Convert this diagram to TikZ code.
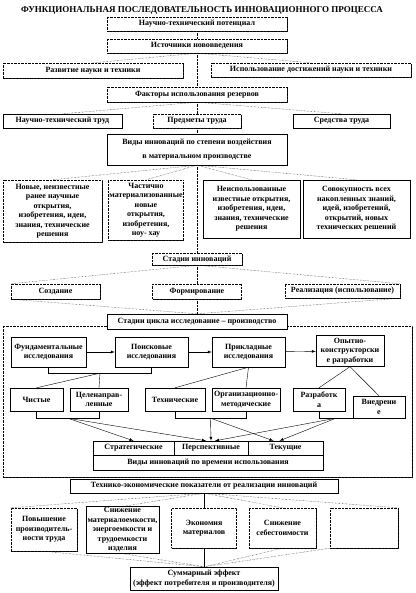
\documentclass[tikz,border=0pt]{standalone}
\usepackage{fontspec}
\setmainfont{Liberation Serif}
\usetikzlibrary{shapes.geometric, arrows, shadows}
\tikzstyle{dbox} = [rectangle, draw=black, densely dotted, fill=white, align=center, inner sep=1pt, drop shadow={shadow xshift=0.8pt, shadow yshift=-0.8pt, fill=black!85, opacity=1}]
\tikzstyle{sbox} = [rectangle, draw=black, fill=white, align=center, inner sep=1pt, drop shadow={shadow xshift=0.8pt, shadow yshift=-0.8pt, fill=black!85, opacity=1}]
\tikzstyle{innerbox} = [rectangle, draw=black, fill=white, align=center, inner sep=1pt]
\tikzstyle{bigframe} = [rectangle, draw=black, densely dotted, fill=white, drop shadow={shadow xshift=0.8pt, shadow yshift=-0.8pt, fill=black!85, opacity=1}]
\tikzstyle{link} = [densely dotted]
\tikzstyle{solidline} = [thin]
\tikzstyle{arrow} = [->,>=latex]

\begin{document}
\begin{tikzpicture}[x=1pt, y=-1pt, node distance=22pt, thin, every node/.style={font=\fontsize{8}{9.5}\selectfont\bfseries}]
	\useasboundingbox (0,0) rectangle (415,593);

	\node (title) at (202,10) [font=\fontsize{9}{10}\selectfont\bfseries] {ФУНКЦИОНАЛЬНАЯ ПОСЛЕДОВАТЕЛЬНОСТЬ ИННОВАЦИОННОГО ПРОЦЕССА};

	% источники и факторы
	\node (pot) [dbox, below of=title, node distance=14pt, xshift=-5pt, minimum width=180pt, minimum height=14pt] {Научно-технический потенциал};
	\node (src) [dbox, below of=pot, minimum width=180pt, minimum height=14pt] {Источники нововведения};
	\node (dev) [dbox, below of=src, node distance=24.5pt, xshift=-104pt, minimum width=180pt, minimum height=15pt] {Развитие науки и техники};
	\node (use) [dbox, below of=src, node distance=24pt, xshift=114pt, minimum width=200pt, minimum height=14pt] {Использование достижений науки и техники};
	\node (fact) [dbox, below of=src, node distance=48.5pt, minimum width=180pt, minimum height=15pt] {Факторы использования резервов};
	\node (labor) [sbox, below of=fact, node distance=26.5pt, xshift=-134.5pt, minimum width=119pt, minimum height=14pt] {Научно-технический труд};
	\node (objects) [dbox, below of=fact, node distance=26.5pt, minimum width=88pt, minimum height=14pt] {Предметы труда};
	\node (means) [sbox, below of=fact, node distance=26.5pt, xshift=144.5pt, minimum width=97pt, minimum height=14pt] {Средства труда};
	\node (kinds) [sbox, below of=objects, node distance=28.5pt, minimum width=180pt, minimum height=31pt] {Виды инноваций по степени воздействия\\[4pt]в материальном производстве};

	% виды по степени воздействия
	\node (new) [dbox, below of=kinds, node distance=61.5pt, xshift=-144.5pt, minimum width=99pt, minimum height=62pt] {Новые, неизвестные\\ранее научные\\открытия,\\изобретения, идеи,\\знания, технические\\решения};
	\node (part) [dbox, below of=kinds, node distance=60.5pt, xshift=-51pt, minimum width=74pt, minimum height=60pt] {Частично\\материализованные\\новые\\открытия,\\изобретения,\\ноу- хау};
	\node (unused) [sbox, below of=kinds, node distance=59.5pt, xshift=54.5pt, minimum width=97pt, minimum height=58pt] {Неиспользованные\\известные открытия,\\изобретения, идеи,\\знания, технические\\решения};
	\node (total) [sbox, below of=kinds, node distance=59.5pt, xshift=159.5pt, minimum width=107pt, minimum height=58pt] {Совокупность всех\\накопленных знаний,\\идей, изобретений,\\открытий, новых\\технических решений};

	% стадии
	\node (stages) [dbox, below of=kinds, node distance=109.5pt, minimum width=90pt, minimum height=12pt] {Стадии инноваций};
	\node (create) [dbox, below of=stages, node distance=32.5pt, xshift=-141.5pt, minimum width=89pt, minimum height=15pt] {Создание};
	\node (form) [dbox, below of=stages, node distance=32.5pt, minimum width=89pt, minimum height=15pt] {Формирование};
	\node (real) [dbox, below of=stages, node distance=32pt, xshift=145.5pt, minimum width=115pt, minimum height=14pt] {Реализация (использование)};
	\node (frame) [bigframe, below of=form, node distance=110pt, xshift=10.5pt, minimum width=409pt, minimum height=151pt] {};
	\node (cycle) [sbox, below of=form, node distance=30pt, minimum width=180pt, minimum height=15pt] {Стадии цикла исследование – производство};

	% цикл исследование - производство
	\node (fund) [innerbox, below of=cycle, node distance=30.5pt, xshift=-148.5pt, minimum width=75pt, minimum height=30pt] {Фундаментальные\\исследования};
	\node (search) [innerbox, right of=fund, node distance=103pt, minimum width=73pt, minimum height=30pt] {Поисковые\\исследования};
	\node (applied) [innerbox, right of=search, node distance=97pt, minimum width=73pt, minimum height=30pt] {Прикладные\\исследования};
	\node (design) [innerbox, right of=applied, node distance=101.5pt, yshift=1pt, minimum width=68pt, minimum height=31pt] {Опытно-\\конструкторски\\е разработки};

	\node (pure) [innerbox, below of=fund, node distance=47.5pt, xshift=-12pt, minimum width=53pt, minimum height=23pt] {Чистые};
	\node (aimed) [innerbox, right of=pure, node distance=62.5pt, minimum width=58pt, minimum height=23pt] {Целенаправ-\\ленные};
	\node (tech) [innerbox, right of=aimed, node distance=76pt, minimum width=60pt, minimum height=23pt] {Технические};
	\node (org) [innerbox, right of=tech, node distance=71pt, minimum width=68pt, minimum height=23pt] {Организационно-\\методические};
	\node (work) [innerbox, right of=org, node distance=73pt, minimum width=52pt, minimum height=23pt] {Разработк\\а};
	\node (impl) [innerbox, right of=work, node distance=60pt, yshift=-7.5pt, minimum width=52pt, minimum height=22pt] {Внедрени\\е};

	\node (persp) [innerbox, below of=tech, node distance=48.5pt, xshift=36pt, minimum width=74pt, minimum height=14pt] {Перспективные};
	\node (strat) [innerbox, left of=persp, node distance=77.5pt, minimum width=81pt, minimum height=14pt] {Стратегические};
	\node (curr) [innerbox, right of=persp, node distance=74.5pt, minimum width=75pt, minimum height=14pt] {Текущие};
	\node (time) [innerbox, below of=persp, node distance=14.5pt, xshift=-3pt, minimum width=230pt, minimum height=15pt] {Виды инноваций по времени использования};

	% показатели и эффект
	\node (econ) [sbox, below of=time, node distance=23.5pt, xshift=-4pt, minimum width=268pt, minimum height=14pt] {Технико-экономические показатели от реализации инноваций};
	\node (mat) [dbox, below of=econ, node distance=42pt, minimum width=65pt, minimum height=40pt] {Экономия\\материалов};
	\node (prod) [dbox, below of=econ, node distance=43.5pt, xshift=-160pt, minimum width=66pt, minimum height=43pt] {Повышение\\производитель-\\ности труда};
	\node (intens) [sbox, below of=econ, node distance=44pt, xshift=-81.5pt, minimum width=73pt, minimum height=44pt] {Снижение\\материалоемкости,\\энергоемкости и\\трудоемкости\\изделия};
	\node (cost) [dbox, below of=econ, node distance=42pt, xshift=78.5pt, minimum width=67pt, minimum height=40pt] {Снижение\\себестоимости};
	\node (blank) [dbox, below of=econ, node distance=42pt, xshift=160pt, minimum width=68pt, minimum height=40pt] {};
	\node (sum) [sbox, below of=mat, node distance=50.5pt, minimum width=148pt, minimum height=23pt] {Суммарный эффект\\(эффект потребителя и производителя)};

	% связи верхней части
	\draw [link] (pot) -- (src);
	\draw [link] (src.south) -- (dev.north);
	\draw [link] (src.south) -- (use.north);
	\draw [link] (src) -- (fact);
	\draw [link] (fact.south) -- (labor.north);
	\draw [link] (fact.south) -- (means.north);
	\draw [link] (fact) -- (objects);
	\draw [link] (objects) -- (kinds);
	\draw [link] (kinds.south) -- (new.north);
	\draw [link] (kinds.south) -- (part.north);
	\draw [link] (kinds.south) -- (unused.north);
	\draw [link] (kinds.south) -- (total.north);
	\draw [link] (kinds) -- (stages);
	\draw [link] (stages.south) -- (create.north west);
	\draw [link] (stages.south) -- (real.north east);
	\draw [link] (stages) -- (form);
	\draw [link] (create.south west) -- (cycle.north);
	\draw [link] (real.south east) -- (cycle.north);
	\draw [link] (form) -- (cycle);

	% связи внутри цикла
	\draw [arrow] (fund) -- (search);
	\draw [arrow] (search) -- (applied);
	\draw [arrow] (applied) -- (design);
	\draw (fund.south) -- ++(0,6) -| node[coordinate, pos=0.25] (brR) {} (search.south);
	\draw (brR) -- (pure.north);
	\draw (brR) -- (aimed.north);
	\draw (applied.south) -- (tech.north);
	\draw (applied.south) -- (org.north);
	\draw (design.south) -- (work.north);
	\draw (design.south) -- (impl.north);
	\draw (pure.south) -- ++(0,7) -| node[coordinate, pos=0.25] (brA) {} (aimed.south);
	\draw (tech.south) -- ++(0,7) -| node[coordinate, pos=0.25] (brB) {} (org.south);
	\draw (work.south) |- node[coordinate, pos=0.75] (brC) {} (impl.south west);
	\draw [arrow] (brA) -- (strat.north);
	\draw [arrow] (brA) -- ([xshift=-5pt]persp.north);
	\draw [arrow] (brB) -- (persp.north);
	\draw [arrow] (brB) -- ([xshift=-12pt]curr.north);
	\draw [arrow] (brC) -- ([xshift=4pt]persp.north);
	\draw [arrow] (brC) -- ([xshift=-6pt]curr.north);

	% связи нижней части
	\draw [link] (econ.south) -- (prod.north west);
	\draw [link] (econ.south) -- (intens.north);
	\draw [link] (econ.south) -- (cost.north);
	\draw [link] (econ.south) -- (blank.north east);
	\draw [solidline] (econ) -- (mat);
	\draw [solidline] (mat) -- (sum);
	\draw [link] (prod.south) -- (sum.north);
	\draw [link] (intens.south) -- (sum.north);
	\draw [link] (cost.south) -- (sum.north);
	\draw [link] (blank.south west) -- (sum.north);
\end{tikzpicture}
\end{document}
